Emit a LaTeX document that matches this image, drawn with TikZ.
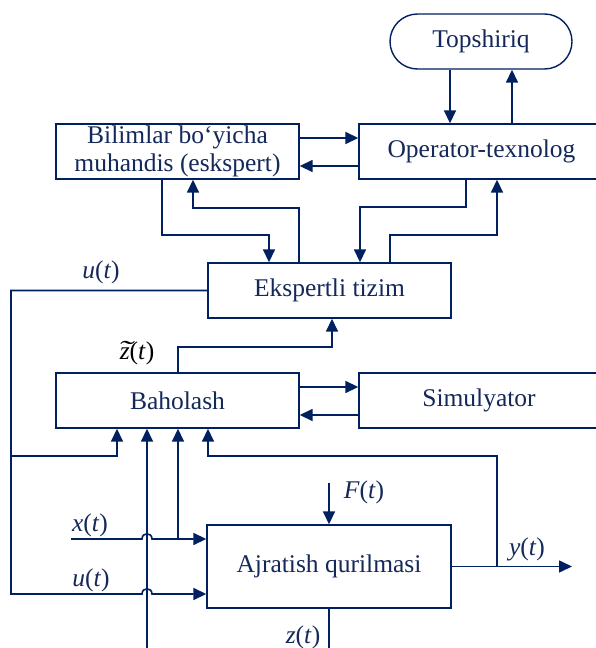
\documentclass[tikz,border=0pt]{standalone}
\usepackage{fontspec}
\usepackage{graphicx}
\setmainfont{Liberation Serif}
\usetikzlibrary{arrows.meta}
\definecolor{navy}{RGB}{0,32,96}
\definecolor{ink}{RGB}{20,40,90}
% italic z with a wide tilde above it
\newcommand{\ztilde}{\textit{\makebox[0pt][l]{\makebox[0.42em][c]{\raisebox{0.02em}{\scalebox{1.7}[1]{\char"02DC}}}}z}}
\begin{document}
\begin{tikzpicture}[x=1pt,y=-1pt,
  txt/.style={font=\fontsize{25.5}{28}\selectfont, text=ink},
  box/.style={txt, draw=navy, line width=1.4pt, fill=white, inner sep=0pt,
    minimum height=55pt, align=center},
  link/.style={draw=navy, line width=1.6pt},
  arr/.style={link, -{Triangle[length=13pt,width=12pt]}},
  lab/.style={txt, inner sep=0pt}]
\path[use as bounding box] (0,0) rectangle (596,648);
\clip (0,0) rectangle (596,648);

% blocks
\node[box, rounded corners=27.5pt, minimum width=182pt] (tp) at (481,41.5) {Topshiriq};
\node[box, minimum width=243pt] (bil) at (177.5,151.5) {Bilimlar bo‘yicha\\muhandis (eskspert)};
\node[box, minimum width=245pt] (op) at (481.5,151.5) {Operator-texnolog};
\node[box, minimum width=243pt] (eks) at (329.5,290.5) {Ekspertli tizim};
\node[box, minimum width=243pt] (bah) at (177.5,400.5) {Baholash};
\node[box, minimum width=240pt] (sim) at (479,400.5) {Simulyator};
\node[box, minimum width=244pt, minimum height=83pt] (aj) at (329,566.5) {Ajratish qurilmasi};

% free ends
\coordinate (xin) at (71,539);
\coordinate (zin) at (147,648);
\coordinate (fin) at (329,483);
\coordinate (zout) at (329,648);
\coordinate (yout) at (572,566.5);

% task and operator
\draw[arr] (tp.south -| 450,0) -- (op.north -| 450,0);
\draw[arr] (op.north -| 512,0) -- (tp.south -| 512,0);

% engineer <-> operator
\draw[arr] (bil.east |- 0,138) -- (op.west |- 0,138);
\draw[arr] (op.west |- 0,166) -- (bil.east |- 0,166);

% engineer / operator <-> expert system
\draw[arr] (bil.south -| 162,0) -- (162,235) -| (eks.north -| 269,0);
\draw[arr] (eks.north -| 299,0) -- (299,208) -| (bil.south -| 193,0);
\draw[arr] (op.south -| 466,0) -- (466,207) -| (eks.north -| 360,0);
\draw[arr] (eks.north -| 390,0) -- (390,235) -| (op.south -| 497,0);

% estimator <-> simulator
\draw[arr] (bah.east |- 0,387) -- (sim.west |- 0,387);
\draw[arr] (sim.west |- 0,415) -- (bah.east |- 0,415);

% estimate to expert system
\draw[arr] (bah.north -| 178,0) -- (178,347) -| (eks.south -| 332,0);

% inputs to the estimator
\draw[arr] (zin) -- (bah.south -| 147,0);
\draw[arr] (11,456) -| (bah.south -| 117,0);
\draw[arr] (178,539) -- (bah.south -| 178,0);
\draw[arr] (497,566.5) -- (497,456) -| (bah.south -| 208,0);

% control u(t)
\draw[arr] (eks.west) -- (11,290.5) -- (11,594) -- (142,594)
  .. controls (142,587) and (152,587) .. (152,594) -- (aj.west |- 0,594);
% input x(t)
\draw[arr] (xin) -- (142,539)
  .. controls (142,532) and (152,532) .. (152,539) -- (aj.west |- 0,539);

% separator
\draw[arr] (fin) -- (aj.north);
\draw[arr] (aj.east) -- (yout);
\draw[link] (aj.south) -- (zout);

% signal labels
\node[lab] (lu1) at (101,272) {\textit{u}(\textit{t})};
\node[lab] (lx) at (90,525) {\textit{x}(\textit{t})};
\node[lab] (lu2) at (91,580) {\textit{u}(\textit{t})};
\node[lab, text=black] (lz1) at (137,353) {\ztilde(\textit{t})};
\node[lab] (lf) at (364,492) {\textit{F}(\textit{t})};
\node[lab] (ly) at (527,549) {\textit{y}(\textit{t})};
\node[lab] (lz2) at (303,637) {\textit{z}(\textit{t})};
\end{tikzpicture}
\end{document}
